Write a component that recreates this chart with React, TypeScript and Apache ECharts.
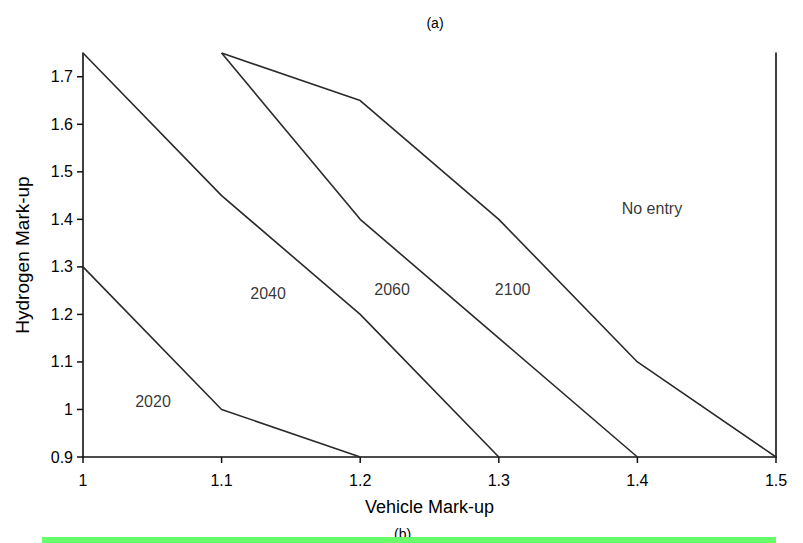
import React, { useEffect, useRef } from "react";
import * as echarts from "echarts";

const xTicks = [1, 1.1, 1.2, 1.3, 1.4, 1.5];
const yTicks = [0.9, 1, 1.1, 1.2, 1.3, 1.4, 1.5, 1.6, 1.7];

const line2020 = [[1, 1.3], [1.1, 1.0], [1.2, 0.9]];
const line2040 = [[1, 1.75], [1.1, 1.45], [1.2, 1.2], [1.3, 0.9]];
const line2060 = [[1.1, 1.75], [1.2, 1.4], [1.3, 1.15], [1.4, 0.9]];
const line2100 = [[1.1, 1.75], [1.2, 1.65], [1.3, 1.4], [1.4, 1.1], [1.5, 0.9]];

const regionLabels = ["2020", "2040", "2060", "2100", "No entry"];
const regionLabelPos = [[1.0505, 1.016], [1.1335, 1.243], [1.223, 1.252], [1.31, 1.252], [1.4105, 1.422]];

const X_MIN = 1;
const X_MAX = 1.5;
const Y_MIN = 0.9;
const Y_MAX = 1.75;

const FONT = "'Liberation Sans', Arial, Helvetica, sans-serif";

export default function App() {
  const ref = useRef<HTMLDivElement>(null);
  useEffect(() => {
    if (!ref.current) return;
    const chart = echarts.init(ref.current, null, { renderer: "svg" });
    const lineStyle = { color: "#2a2a2a", width: 1.6 };
    const mk = (name: string, data: number[][]) => ({
      name,
      type: "line",
      data,
      symbol: "none",
      lineStyle,
      silent: true,
    });
    const fmt = (v: number) => String(parseFloat(v.toFixed(2)));
    const tickSeries = (data: number[][], dir: "x" | "y") => ({
      type: "custom",
      silent: true,
      clip: false,
      data,
      renderItem: (_params: any, api: any) => {
        const p = api.coord([api.value(0), api.value(1)]);
        const shape =
          dir === "x"
            ? { x1: p[0], y1: p[1], x2: p[0], y2: p[1] + 6 }
            : { x1: p[0], y1: p[1], x2: p[0] - 6, y2: p[1] };
        return { type: "line", shape, style: { stroke: "#111", lineWidth: 1.5 } };
      },
    });
    chart.setOption({
      animation: false,
      backgroundColor: "#fff",
      title: {
        text: "(a)",
        left: 430,
        top: 11,
        textAlign: "center",
        textStyle: { fontFamily: FONT, fontSize: 14, fontWeight: "normal", color: "#000" },
      },
      grid: { left: 83, right: 27, top: 53, bottom: 86 },
      xAxis: {
        type: "value",
        min: X_MIN,
        max: X_MAX,
        interval: 0.1,
        name: "Vehicle Mark-up",
        nameLocation: "middle",
        nameGap: 41,
        nameTextStyle: { fontFamily: FONT, fontSize: 18, color: "#000" },
        axisLine: { show: true, lineStyle: { color: "#111", width: 1.6 } },
        axisTick: { show: false },
        axisLabel: {
          fontFamily: FONT, fontSize: 16, color: "#000", margin: 15,
          formatter: fmt,
        },
        splitLine: { show: false },
      },
      yAxis: [
        {
          type: "value",
          min: Y_MIN,
          max: Y_MAX,
          interval: 0.1,
          name: "Hydrogen Mark-up",
          nameLocation: "middle",
          nameGap: 51,
          nameRotate: 90,
          nameTextStyle: { fontFamily: FONT, fontSize: 19, color: "#000" },
          axisLine: { show: true, lineStyle: { color: "#111", width: 1.6 } },
          axisTick: { show: false },
          axisLabel: {
            fontFamily: FONT, fontSize: 16, color: "#000", margin: 10,
            showMaxLabel: false,
            formatter: (v: number) => (yTicks.some((t) => Math.abs(t - v) < 1e-6) ? fmt(v) : ""),
          },
          splitLine: { show: false },
        },
        {
          type: "value",
          min: Y_MIN,
          max: Y_MAX,
          position: "right",
          axisLine: { show: true, lineStyle: { color: "#111", width: 1.6 } },
          axisTick: { show: false },
          axisLabel: { show: false },
          splitLine: { show: false },
        },
      ],
      series: [
        mk("2020", line2020),
        mk("2040", line2040),
        mk("2060", line2060),
        mk("2100", line2100),
        tickSeries(xTicks.map((v) => [v, Y_MIN]), "x"),
        tickSeries(yTicks.map((v) => [X_MIN, v]), "y"),
        {
          type: "scatter",
          symbolSize: 0,
          silent: true,
          data: regionLabelPos.map((p, i) => ({ value: p, name: regionLabels[i] })),
          label: {
            show: true,
            position: "inside",
            formatter: (p: any) => p.name,
            fontFamily: FONT,
            fontSize: 16,
            color: "#000",
          },
        },
      ],
      graphic: [
        {
          type: "text",
          left: 394,
          top: 527,
          style: { text: "(b)", fontFamily: FONT, fontSize: 14, fill: "#000" },
          z: 1,
        },
        {
          type: "rect",
          shape: { x: 42, y: 537, width: 734, height: 8 },
          style: { fill: "#66ff6a" },
          z: 10,
        },
      ],
    });
    return () => chart.dispose();
  }, []);
  return <div ref={ref} style={{ width: 803, height: 543, position: "absolute", left: 0, top: 0 }} />;
}
